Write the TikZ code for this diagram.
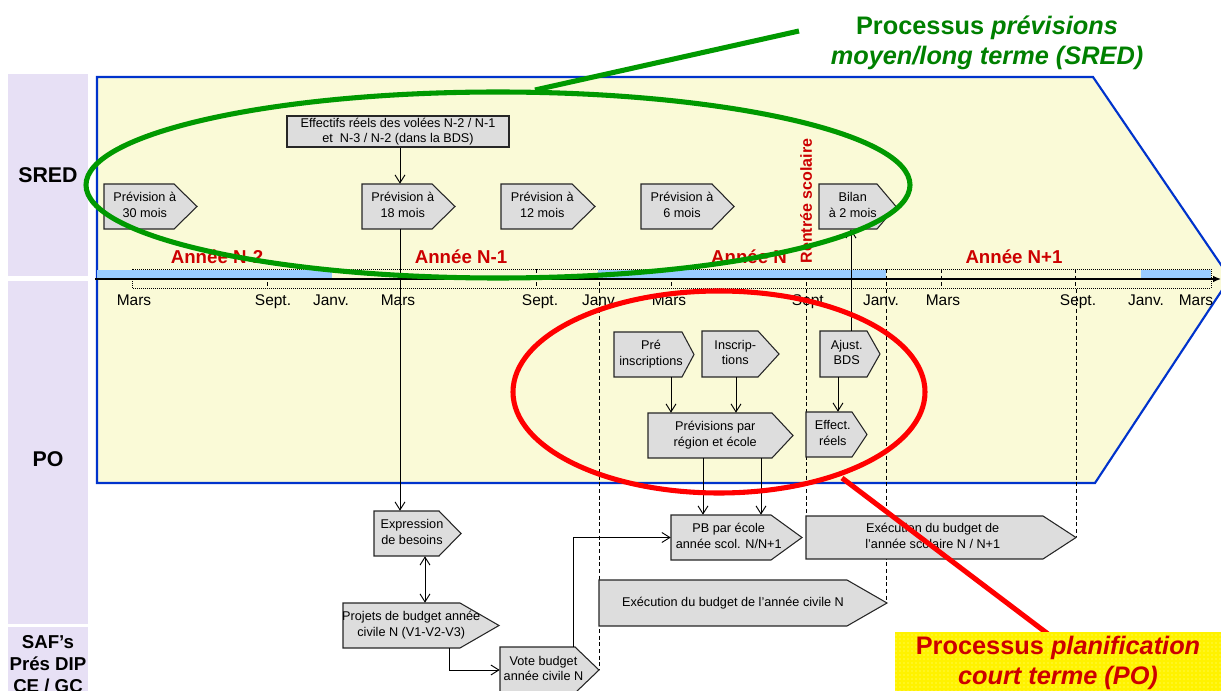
\documentclass[tikz,border=0pt]{standalone}
\usepackage{fontspec}
\setmainfont{Liberation Sans}
\usetikzlibrary{positioning,arrows.meta,patterns}

\definecolor{lanefill}{RGB}{231,224,245}
\definecolor{zonefill}{RGB}{250,250,215}
\definecolor{zoneline}{RGB}{0,51,204}
\definecolor{barblue}{RGB}{153,204,255}
\definecolor{boxgray}{RGB}{221,221,221}
\definecolor{darkred}{RGB}{204,0,0}
\definecolor{loopgreen}{RGB}{0,153,0}
\definecolor{titlegreen}{RGB}{0,128,0}

% pentagon box: name, left, top, notch, tip, bottom, text
\newcommand{\procbox}[7]{%
  \path[proc] (#2,#3) -- (#4,#3) -- (#5,{(#3+#6)/2}) -- (#4,#6) -- (#2,#6) -- cycle;
  \node[proctext, minimum width={(#5-#2)*0.75pt}, minimum height={(#6-#3)*0.75pt}]
    (#1) at ({(#2+#5)/2},{(#3+#6)/2})
    {\begin{tabular}{@{}c@{}}#7\end{tabular}\hspace*{\dimexpr(#5pt-#4pt)*3/8\relax}};
}

\begin{document}
\begin{tikzpicture}[x=0.75pt, y=-0.75pt,
    proc/.style={fill=boxgray, draw=black!85, line width=0.8pt},
    proctext/.style={inner sep=0pt, font=\fontsize{9.5}{11.3}\selectfont},
    month/.style={font=\fontsize{11.6}{13}\selectfont, anchor=base},
    year/.style={font=\fontsize{14}{16}\selectfont\bfseries, text=darkred},
    lane/.style={font=\fontsize{16}{18}\selectfont\bfseries, align=center},
    link/.style={-{Straight Barb[length=6pt,width=7.5pt]}, line width=0.7pt},
    guide/.style={dash pattern=on 3pt off 2pt, line width=0.7pt},
    ring/.style={line width=3.8pt}]

\useasboundingbox (0,0) rectangle (1221,691);
\clip (0,0) rectangle (1221,691);

% lanes
\fill[lanefill] (8,74) rectangle (88,276);
\fill[lanefill] (8,281) rectangle (88,624);
\fill[lanefill] (8,627) rectangle (88,700);
\node[lane] (sred) at (48,175) {SRED};
\node[lane] (po) at (48,459) {PO};
\node[lane, font=\fontsize{14}{16.5}\selectfont\bfseries] (saf) at (48,664) {SAF’s\\Prés DIP\\CE / GC};

% zone of the two processes
\draw[zoneline, fill=zonefill, line width=1.6pt] (97,77) -- (1093,77) -- (1230,278) -- (1095,483) -- (97,483) -- cycle;

% time axis
\draw[densely dotted, line width=0.5pt] (132,269) rectangle (1211,288);
\foreach \x in {267,400,536,599,671,806,886,941,1075}
  \draw[densely dashed, line width=0.5pt] (\x,269) -- (\x,288);
\fill[barblue] (97,270) rectangle (332,279);
\fill[barblue] (598,270) rectangle (886,279);
\fill[barblue] (1141,270) rectangle (1211,279);
\draw[-{Latex[length=6pt,width=5pt]}, line width=1pt] (95,279) -- (1221,279);

\foreach \x/\m in {134/Mars, 273/Sept., 331/Janv., 398/Mars, 540/Sept., 600/Janv.,
    669/Mars, 810/Sept., 881/Janv., 943/Mars, 1078/Sept., 1146/Janv., 1196/Mars}
  \node[month] (m\x) at (\x,306) {\m};

\node[year] (an2) at (217,257) {Année N-2};
\node[year] (an1) at (461,257) {Année N-1};
\node[year] (an) at (749,257) {Année N};
\node[year] (anp1) at (1014,257) {Année N+1};
\node[year, font=\fontsize{12}{14}\selectfont\bfseries, rotate=90] (rentree) at (806,201) {Rentrée scolaire};

% guides
\draw[guide] (599,289) -- (599,670);
\draw[guide] (806,289) -- (806,516);
\draw[guide] (886,289) -- (886,603);
\draw[guide] (1076,289) -- (1076,537);

% SRED
\node[proc, proctext, minimum width=166.5pt, minimum height=23.25pt, align=center] (eff) at (398,131.5)
  {Effectifs réels des volées N-2 / N-1\\et \ N-3 / N-2 (dans la BDS)};
\procbox{p30}{104}{184}{174}{197}{229}{Prévision à\\30 mois}
\procbox{p18}{362}{184}{432}{455}{229}{Prévision à\\18 mois}
\procbox{p12}{501}{184}{572}{595}{229}{Prévision à\\12 mois}
\procbox{p6}{641}{184}{712}{734}{229}{Prévision à\\6 mois}
\procbox{bilan}{819}{184}{877}{896}{229}{Bilan\\à 2 mois}

% PO
\procbox{pre}{614}{332}{682}{694}{377}{Pré\\inscriptions}
\procbox{insc}{702}{331}{758}{779}{377}{Inscrip-\\tions}
\procbox{ajust}{820}{331}{867}{880}{377}{Ajust.\\BDS}
\procbox{prevreg}{648}{413}{772}{793}{458}{Prévisions par\\région et école}
\procbox{effect}{806}{412}{852}{867}{457}{Effect.\\réels}
\procbox{expr}{374}{511}{439}{461}{556}{Expression\\de besoins}
\procbox{pb}{671}{515}{771}{802}{560}{PB par école\\année scol. N/N+1}
\procbox{execsco}{806}{516}{1043}{1076}{559}{Exécution du budget de\\l’année scolaire N / N+1}
\procbox{execciv}{599}{580}{847}{887}{626}{Exécution du budget de l’année civile N}

% SAF's
\procbox{projets}{343}{603}{460}{499}{648}{Projets de budget année\\civile N (V1-V2-V3)}
\procbox{vote}{500}{647}{575}{599}{693}{Vote budget\\année civile N}

% links
\draw[link] (eff.south -| 400,0) -- (p18.north -| 400,0);
\draw[link] (p18.south -| 400,0) -- (expr.north -| 400,0);
\draw[link, {Straight Barb[length=6pt,width=7.5pt]}-{Straight Barb[length=6pt,width=7.5pt]}] (expr.south -| 425,0) -- (projets.north -| 425,0);
\draw[link] (projets.south -| 449,0) |- (vote.west);
\draw[link] (vote.north -| 573,0) |- (pb.west);
\draw[link] (pre.south -| 671,0) -- (prevreg.north -| 671,0);
\draw[link] (insc.south -| 736,0) -- (prevreg.north -| 736,0);
\draw[link] (ajust.south -| 838,0) -- (effect.north -| 838,0);
\draw[link] (ajust.north -| 851,0) -- (bilan.south -| 851,0);
\draw[link] (prevreg.south -| 703,0) -- (pb.north -| 703,0);
\draw[link] (prevreg.south -| 761,0) -- (pb.north -| 761,0);

% process rings
\draw[ring, loopgreen] (498,185) ellipse [x radius=412, y radius=93];
\draw[ring, loopgreen] (535,90) -- (799,31);
\draw[ring, red] (719,392) ellipse [x radius=206, y radius=101];
\draw[ring, red] (842,478) -- (1048,634);

\node[align=center, text=titlegreen, font=\fontsize{19}{22.5}\selectfont\bfseries] (sredtitle) at (987,43)
  {Processus \textit{prévisions}\\\textit{moyen/long terme (SRED)}};

\fill[yellow] (895,632) rectangle (1225,695);
\fill[pattern=dots, pattern color=white!55!yellow] (895,632) rectangle (1225,695);
\node[align=center, text=darkred, font=\fontsize{19}{22.5}\selectfont\bfseries] (potitle) at (1058,663)
  {Processus \textit{planification}\\\textit{court terme (PO)}};
\end{tikzpicture}
\end{document}
